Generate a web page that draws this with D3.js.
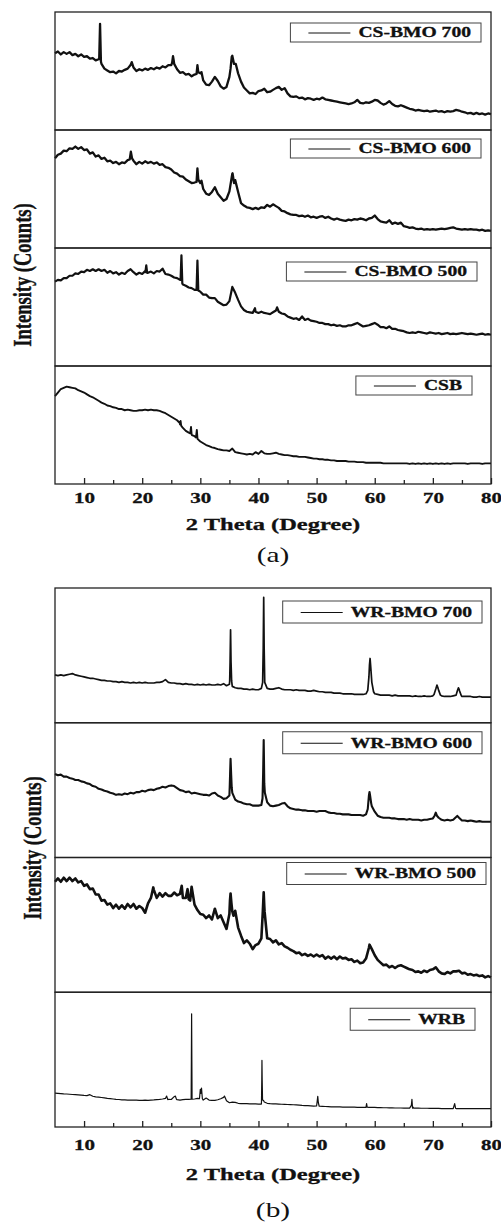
<!DOCTYPE html>
<html>
<head>
<meta charset="utf-8">
<script src="https://cdnjs.cloudflare.com/ajax/libs/d3/7.8.5/d3.min.js"></script>
<style>
    body { margin: 0; background: #fff; }
    svg { display: block; background: #fff; }
    text { font-family: "Liberation Serif", "Times New Roman", serif; fill: #111; }
    text.heavy { stroke: #111; stroke-width: 0.3; }
</style>
</head>
<body>
<script>
// 2-theta sampling grid, 5 to 80 deg every 0.5 deg
var grid = d3.range(10, 161).map(function(i) { return i / 2; });

// intensities in % of panel height, one value per grid step
var cs700 = [
    65, 66.5, 64, 66, 64.5, 66, 63.5, 64.5, 62.5, 64,
    62, 62.5, 60.5, 61, 59, 60, 56, 52, 50.5, 49,
    49.5, 48, 50, 49.5, 51, 52, 55, 53, 50, 51.5,
    50.5, 52, 51, 52.5, 51.5, 53, 52, 54, 53, 55,
    55, 56, 51.5, 48.5, 49, 47, 47.5, 45.5, 47, 55,
    48, 42, 38.5, 38, 41, 45, 41.5, 37, 35, 36.5,
    45, 63, 56, 48, 41, 36, 33.5, 31, 31.5, 30.5,
    33, 33.5, 35, 32, 32.5, 34, 35.5, 36.5, 34, 35.5,
    31, 28.5, 28, 28.5, 27, 27.5, 26, 27, 26.5, 25.5,
    26.5, 26, 27.5, 26, 25.5, 25, 24.5, 24, 23.5, 23,
    22.5, 22, 22.5, 23.5, 25.5, 23, 22.5, 23.5, 23, 24,
    25.5, 25, 23, 21.5, 22.5, 24.5, 22, 20.5, 20, 21,
    20, 19, 18, 17.5, 16.5, 17, 16.5, 16, 16.5, 15.5,
    16, 16.5, 15.5, 16, 15, 16, 15.5, 16, 17, 16.5,
    15.5, 15, 14, 14.5, 13.5, 14.5, 13.5, 14, 13, 14, 13.5
];
var cs600 = [
    76, 79, 80, 82.5, 82, 84.5, 84, 86, 84, 85.5,
    83, 83.5, 80, 81, 77.5, 78.5, 75.5, 76.5, 73.5, 74,
    72, 73, 71, 72.5, 72, 74.5, 80, 74, 71, 73,
    71.5, 73.5, 72, 73, 71.5, 72.5, 70.5, 71, 68.5, 68,
    66.5, 64, 63, 61, 60.5, 58, 56.5, 55, 55.5, 67.5,
    55, 50, 46, 45, 47.5, 51.5, 46, 43, 40, 41.5,
    48, 63, 57.5, 47.5, 38, 36, 34.5, 34, 33, 34,
    33, 34.5, 34, 36.5, 35, 37, 35.5, 34, 31.5, 31,
    29.5, 28.5, 28, 28, 27, 27.5, 26.5, 27.5, 26, 26.5,
    25.5, 26.5, 27, 25.5, 26.5, 25, 24, 25, 24, 23.5,
    23, 24, 23.5, 24.5, 24, 25, 24.5, 23.5, 25, 25.5,
    27.5, 24.5, 22.5, 22, 21.5, 23.5, 20.5, 21.5, 20.5, 21.5,
    18.5, 18, 17, 17.5, 16.5, 16, 16.5, 15.5, 16, 15.5,
    16, 15.5, 16, 16.5, 16, 16.5, 17, 17.5, 16.5, 16,
    15.5, 16, 15.5, 16, 15.5, 15.5, 15, 15.5, 14.5, 15, 14.5
];
var cs500 = [
    71.5, 73, 72.5, 74.5, 74.5, 76.5, 76.5, 78.5, 78, 80,
    79.5, 81.5, 80.5, 82, 80.5, 82, 80.5, 81.5, 79, 80.5,
    78.5, 79.5, 77.5, 79, 78, 80.5, 82, 79.5, 77.5, 79,
    78, 80.5, 79, 80, 78.5, 80.5, 80, 82.5, 78, 77.5,
    76.5, 75, 74.5, 73, 69, 68, 66.5, 66, 64.5, 89.3,
    63, 60.5, 60.5, 58, 57.5, 57.5, 54.5, 53, 51.5, 52,
    55, 67, 62, 56, 50.5, 47.5, 46, 45.5, 45, 46,
    45, 46, 45, 44.5, 44, 45.5, 47, 46, 44.5, 44,
    42, 41, 40, 40.5, 39, 42, 39, 40, 38.5, 38,
    37.5, 36.5, 36.5, 35.5, 35.5, 34.5, 35, 34, 34.5, 33.5,
    33.5, 34.5, 34.5, 35.5, 36.5, 35, 33.5, 34, 34.5, 35.5,
    36.5, 35, 33, 33, 32, 33.5, 31.5, 31.5, 30.5, 30,
    29.5, 28.5, 28, 28.5, 28, 29, 28.5, 28, 27.5, 28.5,
    28, 27.5, 28, 27, 27.5, 28, 27, 27.5, 27, 27.5,
    28, 27.5, 27, 27.5, 27, 26.5, 27, 27.5, 26.5, 27, 26.5
];
var csb = [
    74.5, 77.5, 80.5, 81.5, 82.5, 82, 81.5, 81, 79.5, 78.5,
    77.5, 76, 74.5, 73.5, 72, 70.5, 69, 68, 66.5, 66,
    65, 64.5, 63.5, 63.5, 62.5, 63, 62.5, 62, 62, 62.5,
    62.5, 63, 62.5, 63, 62.5, 62.5, 62, 61, 60, 58.5,
    57, 55.5, 54, 51.5, 47.5, 45, 43.5, 42, 40.5, 39,
    36, 34.5, 33, 32, 31, 30.5, 29.5, 29, 28.5, 28.5,
    28, 30, 27, 26.5, 26, 25.5, 25, 25.5, 25, 27,
    25.5, 28, 26, 25.5, 25.5, 26, 26.5, 25.5, 25, 24.5,
    24.5, 24, 23.5, 23.5, 23, 23, 23, 22.5, 22, 21.5,
    21.5, 21, 21, 20.5, 20.5, 20, 20, 19.5, 19.5, 19.5,
    19.5, 19, 19, 19, 18.5, 18.5, 18.5, 18, 18, 18,
    18, 18, 18, 17.5, 17.5, 17.5, 17.5, 17.5, 17.5, 17.5,
    17.5, 17.5, 17, 17.5, 17, 17.5, 17, 17.5, 17, 17.5,
    17, 17.5, 17, 17.5, 17, 17.5, 17, 17.5, 17.5, 17.5,
    17.5, 17.5, 17, 17.5, 17.5, 17.5, 17.5, 17, 17.5, 17.5, 17.5
];
var wr700 = [
    35.5, 35, 35.5, 35, 35.5, 36, 36.5, 35.5, 35, 34.5,
    34, 33.5, 33, 33, 32.5, 32, 31.5, 31.5, 31, 31,
    30.5, 30.5, 30, 30.5, 30, 30, 29.5, 30, 29.5, 30,
    29.5, 30, 29.5, 29.5, 29.5, 30, 30, 30.5, 32, 30,
    29.5, 29.5, 29, 29, 28.5, 29, 28.5, 28.5, 28, 28.5,
    28, 28.5, 28, 28.5, 28, 28, 28.5, 28, 29, 27.5,
    28.5, 27, 26, 25.5, 25.5, 25, 25, 24.5, 25, 24.5,
    24.5, 25.5, 50, 25.5, 25, 25, 25.5, 26, 25, 24.5,
    24.5, 24.5, 24, 24.5, 24, 24, 24, 23.5, 23.5, 24,
    23.5, 23, 23, 22.5, 22.5, 22.5, 22, 22, 22, 21.5,
    21.5, 21.5, 21.5, 21, 21, 21, 21, 21.5, 34, 30,
    21.5, 21, 20.5, 20.5, 20.5, 20.5, 20, 20.5, 20, 20,
    20, 20, 20, 19.5, 20, 19.5, 19.5, 20, 19.5, 19.5,
    20, 25, 24, 20, 19.5, 19.5, 19.5, 20, 20.5, 25,
    19.5, 19.5, 19.5, 19.5, 19, 19, 19.5, 19, 19, 19, 19
];
var wr600 = [
    62, 61, 61.5, 60, 60, 59, 58.5, 57.5, 57.5, 56.5,
    56, 55, 54.5, 53, 52.5, 51, 50.5, 49.5, 49, 48,
    47.5, 46.5, 47, 46.5, 47.5, 47, 48, 47.5, 48.5, 48.5,
    49.5, 49, 50, 50.5, 50, 51, 51.5, 52.5, 52, 53,
    53.5, 53, 51.5, 50, 49.5, 48.5, 49, 47.5, 48, 47.5,
    47, 46.5, 46.5, 46, 47.5, 48, 46, 45, 43.5, 44,
    46, 48, 43, 41.5, 41, 40, 39.5, 39.5, 38.5, 38.5,
    38.5, 39, 55, 41, 38.5, 38, 38.5, 39, 40, 40.5,
    38, 36.5, 36, 35.5, 35.5, 35, 35, 34.5, 34.5, 34.5,
    34, 34.5, 34.5, 34.5, 33.5, 33, 33, 32.5, 32.5, 32,
    32, 32, 31.5, 31.5, 31.5, 31.5, 31, 32, 46, 38,
    34, 31, 30, 29.5, 29.5, 29.5, 29, 29, 28.5, 28.5,
    28.5, 28, 28.5, 28, 28, 28, 27.5, 28, 28, 28.5,
    29, 33.3, 29.5, 28, 27.5, 28, 27.5, 28, 30, 29.5,
    27.5, 27.5, 27, 27.5, 27, 26.5, 27, 26.5, 26.5, 26.5, 26.5
];
var wr500 = [
    82, 84.5, 82, 85, 82.5, 85, 82.5, 84.5, 81.5, 82.5,
    79, 80, 76.5, 77, 72.5, 72.5, 68, 68.5, 65, 66,
    62.5, 65, 62, 64.5, 62, 65.5, 63, 65.5, 62, 64,
    62.5, 59, 66, 70, 76, 70, 73.5, 71, 73.5, 71.5,
    71.5, 74, 72, 73, 70, 70, 69, 78.3, 65, 61,
    58, 57.5, 55, 57, 54, 62, 55, 57, 52, 47,
    58, 60, 60.5, 48, 42, 36.5, 38.5, 36, 32, 35,
    36, 40, 64, 40, 39.5, 37, 38.5, 35.5, 36.5, 34,
    33, 31.5, 30.5, 29, 29.5, 27.5, 28.5, 27, 28, 26.5,
    28, 26.5, 27.5, 25, 26.5, 25, 26.5, 24.5, 26.5, 25,
    25.5, 24, 24.5, 22.5, 23.5, 21.5, 22, 25, 33, 32,
    27.5, 24, 22, 20, 20.5, 18.5, 19.5, 18, 19.5, 20,
    19, 18, 17, 16.5, 15, 15.5, 14.5, 16, 15, 16.5,
    17, 18.5, 15.5, 14, 13.5, 15, 14, 15.5, 15.5, 16,
    14, 14.5, 13, 13.5, 12.5, 13, 12, 12.5, 11, 12, 11
];
var wrb = [
    25.2, 25, 24.8, 24.6, 24.5, 24.3, 24.1, 24, 23.8, 23.6,
    23.4, 23.3, 24, 22.8, 22.4, 22.2, 21.9, 21.6, 21.3, 21.1,
    20.8, 20.5, 20.4, 20.2, 20.1, 20, 20, 19.9, 19.9, 19.8,
    19.8, 19.9, 19.8, 20, 20.1, 20.3, 20.5, 20.8, 21.2, 20.6,
    20.4, 22.5, 20.3, 20, 20.3, 20.5, 20.5, 84, 20.8, 21.2,
    27.9, 20, 21.5, 20, 19.8, 19.8, 20.2, 21, 22, 19.5,
    18, 18.5, 18.3, 17.6, 17.3, 17.3, 17.3, 17.2, 17.2, 17.1,
    17, 17, 18.5, 17.6, 17.3, 17.2, 17.1, 17, 16.9, 16.8,
    16.7, 16.6, 16.5, 16.4, 16.2, 16, 15.9, 15.8, 15.7, 15.5,
    15.6, 15.4, 15.3, 15.2, 15.1, 15, 15, 14.9, 14.9, 14.8,
    14.8, 14.8, 14.7, 14.7, 14.6, 14.6, 14.6, 14.6, 14.6, 14.5,
    14.5, 14.4, 14.4, 14.3, 14.3, 14.2, 14.2, 14.1, 14.1, 14.1,
    14, 14, 14, 14, 14, 14, 13.9, 13.9, 13.9, 13.8,
    13.8, 13.8, 13.8, 13.7, 13.7, 13.7, 13.7, 13.7, 13.7, 13.6,
    13.6, 13.6, 13.6, 13.6, 13.6, 13.6, 13.6, 13.6, 13.6, 13.6, 13.6
];

// extra [2theta, intensity] samples on the sharp reflections
var cs700Peaks = [[12.6, 60], [12.75, 90], [12.9, 58], [18.2, 57.5], [25.15, 57], [25.3, 62.5], [25.45, 58],
    [29.35, 47.5], [29.65, 49], [30.2, 49], [35.2, 52], [35.4, 62], [35.8, 56], [36.1, 56]];
var cs600Peaks = [[17.85, 75], [18.05, 81.6], [18.25, 76], [29.35, 56], [29.65, 58], [30.2, 57],
    [35.4, 60], [35.55, 63.3], [35.8, 55]];
var cs500Peaks = [[20.55, 79.5], [20.7, 85.3], [20.85, 79], [26.6, 73], [26.75, 93.8], [26.9, 70],
    [29.35, 64.5], [29.65, 64], [39.4, 49], [43.2, 49.7]];
var csbPeaks = [[26.5, 50.5], [26.6, 53.5], [26.7, 49.5], [28.25, 43], [28.4, 48.3], [28.55, 41.5],
    [29.25, 39.5], [29.4, 45.8], [29.55, 38]];
var wr700Peaks = [[35.05, 31], [35.12, 45], [35.2, 69], [35.28, 45], [35.38, 31],
    [40.72, 30], [40.82, 55], [40.9, 93], [40.98, 55], [41.08, 30],
    [58.8, 24], [59.1, 43], [59.2, 47.7], [59.3, 42], [59.8, 23],
    [70.2, 21], [70.7, 27.9], [70.9, 25.5], [71.3, 20.5], [74.2, 23.5], [74.4, 25.9], [74.6, 23.5], [74.9, 20]];
var wr600Peaks = [[35.05, 52], [35.12, 62], [35.2, 73.3], [35.3, 62], [35.4, 52],
    [40.7, 44], [40.8, 62], [40.9, 87.2], [40.98, 62], [41.1, 48],
    [58.8, 36], [59.1, 48.6], [59.2, 46], [59.4, 40], [70.3, 31], [70.7, 31], [74.2, 30.9]];
var wr500Peaks = [[21.9, 77.8], [26.8, 79], [27.8, 76.5], [28.25, 68], [35.1, 68], [35.2, 73.3], [35.35, 66],
    [35.7, 56.8], [40.75, 60], [40.9, 74.1], [41.05, 60], [59.1, 35.3]];
var wrbPeaks = [[24.2, 23], [24.4, 20.3], [25.7, 23], [25.9, 20.5], [28.42, 20.6], [28.46, 50], [28.54, 50], [28.58, 20.6],
    [29.85, 21], [30.1, 25], [30.2, 28.9], [30.35, 21], [34.15, 23],
    [40.52, 19], [40.57, 35], [40.6, 49.4], [40.64, 35], [40.7, 20], [40.85, 19.8],
    [50.1, 19], [50.2, 22.7], [50.3, 18], [50.45, 15.4], [58.6, 17.3], [58.7, 14.8],
    [66.3, 16], [66.4, 20.5], [66.55, 15], [66.7, 14], [73.75, 17.3], [73.9, 14]];

var csLabels = ['CS-BMO 700', 'CS-BMO 600', 'CS-BMO 500', 'CSB'];
var wrLabels = ['WR-BMO 700', 'WR-BMO 600', 'WR-BMO 500', 'WRB'];
var xMajor = [10, 20, 30, 40, 50, 60, 70, 80];
var xMinor = [15, 25, 35, 45, 55, 65, 75];
var xTitle = '2 Theta (Degree)';
var yTitle = 'Intensity (Counts)';
var captions = ['(a)', '(b)'];

var stretch = 1.4,
    svg = d3.select('body').append('svg')
        .attr('width', 501)
        .attr('height', 1224),
    x = d3.scaleLinear()
        .domain([5, 80])
        .range([55, 491]),
    figs = [
        {top: 12, bottom: 484, tickY: 503, titleY: 530, capY: 562, ylabX: 31, ylabY: 275, boxH: 19,
            labels: csLabels, series: [cs700, cs600, cs500, csb],
            peaks: [cs700Peaks, cs600Peaks, cs500Peaks, csbPeaks],
            widths: [2.3, 2.3, 2.2, 1.9],
            legend: [[10, 11], [10, 9], [14, 14], [19, 10]]},
        {top: 588, bottom: 1127, tickY: 1150, titleY: 1180, capY: 1217, ylabX: 41, ylabY: 848, boxH: 22,
            labels: wrLabels, series: [wr700, wr600, wr500, wrb],
            peaks: [wr700Peaks, wr600Peaks, wr500Peaks, wrbPeaks],
            widths: [1.7, 2.1, 2.6, 1.2],
            legend: [[9, 13], [9, 9], [5, 5], [16, 16]]}
    ];

figs.forEach(function(fig, f) {
    var chart = svg.append('g'),
        ph = (fig.bottom - fig.top) / 4;

    fig.series.forEach(function(vals, i) {
        var top = fig.top + i * ph,
            y = d3.scaleLinear()
                .domain([0, 100])
                .range([top + ph, top]),
            pts = grid.map(function(t, j) { return [t, vals[j]]; })
                .concat(fig.peaks[i])
                .sort(function(a, b) { return a[0] - b[0]; }),
            svgline = d3.line()
                .x(function(d) { return x(d[0]); })
                .y(function(d) { return y(d[1]); });

        chart.append('path')
            .datum(pts)
            .attr('d', svgline)
            .attr('fill', 'none')
            .attr('stroke', '#111')
            .attr('stroke-width', fig.widths[i])
            .attr('stroke-linejoin', 'round');

        chart.append('rect')
            .attr('x', x(5))
            .attr('y', top)
            .attr('width', x(80) - x(5))
            .attr('height', ph)
            .attr('fill', 'none')
            .attr('stroke', '#222')
            .attr('stroke-width', 1.3);

        // legend box, anchored to the panel's top right corner
        var lg = chart.append('g')
                .attr('transform', 'translate(' + (x(80) - fig.legend[i][0]) + ',' + (top + fig.legend[i][1]) + ')'),
            box = lg.append('rect'),
            txt = lg.append('text')
                .attr('class', 'heavy')
                .attr('text-anchor', 'end')
                .attr('font-weight', 'bold')
                .attr('font-size', 14)
                .attr('transform', 'translate(-10,' + (fig.boxH / 2 + 4.8) + ') scale(' + stretch + ',1)')
                .text(fig.labels[i]),
            tw = txt.node().getComputedTextLength() * stretch,
            bx = -(10 + tw + 8 + 42 + 18);

        box
            .attr('x', bx)
            .attr('y', 0)
            .attr('width', -bx)
            .attr('height', fig.boxH)
            .attr('fill', '#fff')
            .attr('stroke', '#444')
            .attr('stroke-width', 1);
        lg.append('line')
            .attr('x1', bx + 18)
            .attr('x2', bx + 60)
            .attr('y1', fig.boxH / 2 + 0.5)
            .attr('y2', fig.boxH / 2 + 0.5)
            .attr('stroke', '#111')
            .attr('stroke-width', 1);
    });

    var axis = chart.append('g')
        .attr('transform', 'translate(0,' + fig.bottom + ')');
    axis.append('g')
        .call(d3.axisBottom(x).tickValues(xMajor).tickSize(-6).tickFormat(d3.format('d')))
        .call(function(g) { g.select('.domain').remove(); });
    axis.append('g')
        .call(d3.axisBottom(x).tickValues(xMinor).tickSize(-4).tickFormat(''))
        .call(function(g) { g.select('.domain').remove(); });
    axis.selectAll('line')
        .attr('stroke', '#222')
        .attr('stroke-width', 1.3);
    axis.selectAll('.tick text')
        .attr('class', 'heavy')
        .attr('y', null)
        .attr('dy', null)
        .attr('fill', '#111')
        .attr('font-family', '"Liberation Serif", serif')
        .attr('font-weight', 'bold')
        .attr('font-size', 15)
        .attr('transform', 'translate(0,' + (fig.tickY - fig.bottom) + ') scale(' + stretch + ',1)');

    chart.append('text')
        .attr('class', 'heavy')
        .attr('text-anchor', 'middle')
        .attr('font-weight', 'bold')
        .attr('font-size', 17.5)
        .attr('transform', 'translate(' + x(42.5) + ',' + fig.titleY + ') scale(' + stretch + ',1)')
        .text(xTitle);

    chart.append('text')
        .attr('text-anchor', 'middle')
        .attr('font-size', 21)
        .attr('transform', 'translate(' + x(42.5) + ',' + fig.capY + ') scale(' + stretch + ',1)')
        .text(captions[f]);

    chart.append('text')
        .attr('class', 'heavy')
        .attr('text-anchor', 'middle')
        .attr('font-weight', 'bold')
        .attr('font-size', 18.5)
        .attr('transform', 'translate(' + fig.ylabX + ',' + fig.ylabY + ') scale(' + stretch + ',1) rotate(-90)')
        .text(yTitle);
});
</script>
</body>
</html>
